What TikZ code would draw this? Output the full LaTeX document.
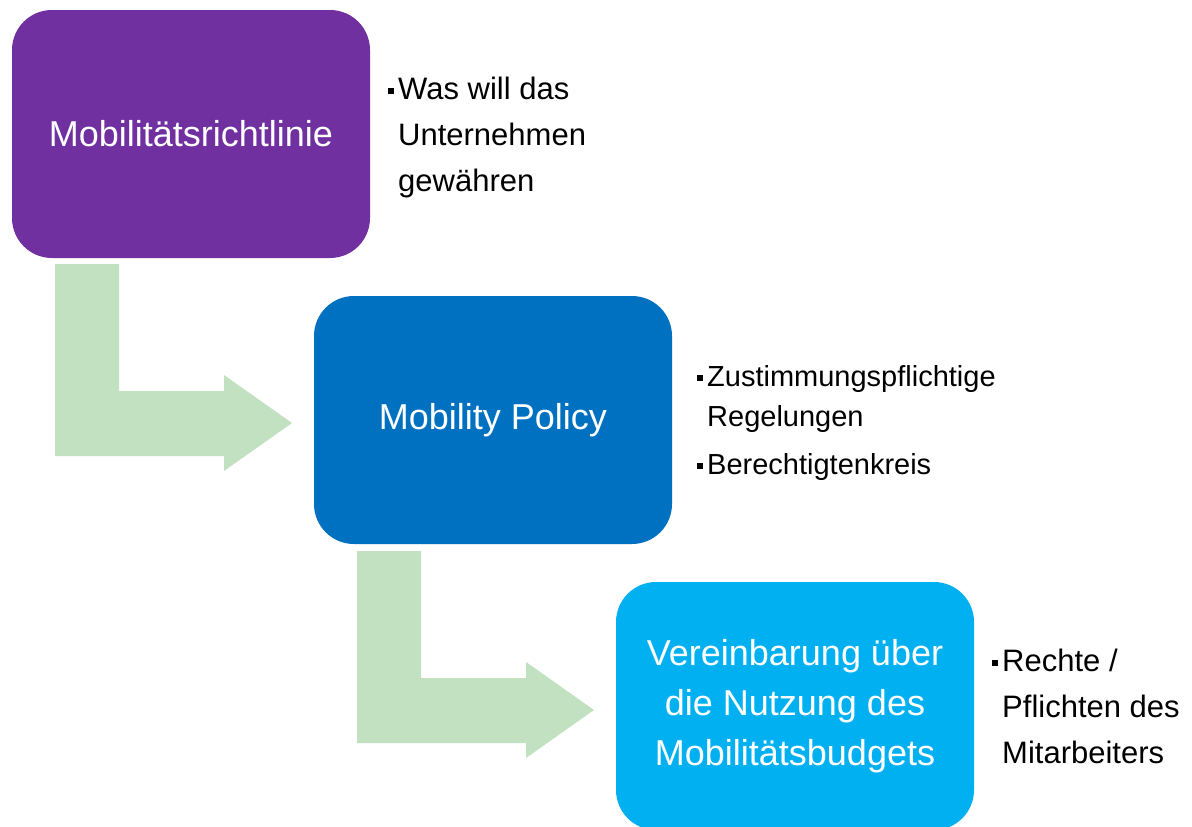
\documentclass[tikz,border=0pt]{standalone}
\usepackage{fontspec}
\setmainfont{Liberation Sans}
\usetikzlibrary{positioning}

\definecolor{richtlinieviolett}{RGB}{112,48,160}
\definecolor{policyblau}{RGB}{0,112,192}
\definecolor{budgethellblau}{RGB}{0,176,240}
\definecolor{pfeilgruen}{RGB}{193,225,192}

\newcommand{\sqb}{\makebox[10pt][l]{\rule[5pt]{6pt}{6pt}}}
\newcommand{\hangin}{\hspace*{10pt}}

\begin{document}
\begin{tikzpicture}[x=1pt, y=-1pt,
    phase/.style={rectangle, rounded corners=40pt, minimum width=358pt, minimum height=248pt, inner sep=0pt, align=center, text=white, font=\fontsize{36}{50}\selectfont},
    info/.style={anchor=base west, inner sep=0pt},
    bentarrow/.pic={\fill[pfeilgruen] (0,0) -- (64,0) -- (64,127) -- (169,127) -- (169,111) -- (237,159) -- (169,207) -- (169,192) -- (0,192) -- cycle;}
]
\useasboundingbox (0,0) rectangle (1192,827);

% Phases
\node[phase, fill=richtlinieviolett] (richtlinie) at (191,134) {Mobilitätsrichtlinie};
\node[phase, fill=policyblau] (policy) at (493,420) {Mobility Policy};
\node[phase, fill=budgethellblau] (vereinbarung) at (795,706) {Vereinbarung über\\die Nutzung des\\Mobilitätsbudgets};

% Bent arrows between the phases
\pic at (55,264) {bentarrow};
\pic at (357,551) {bentarrow};

% Notes
\node[info] (richtlinieinfo) at (388,99) {\parbox[t]{260pt}{\raggedright\fontsize{31}{46}\selectfont
  \sqb Was will das\\ \hangin Unternehmen\\ \hangin gewähren}};
\node[info] (policyinfo) at (697,386) {\parbox[t]{330pt}{\raggedright\fontsize{29}{40}\selectfont
  \sqb Zustimmungspflichtige\\ \hangin Regelungen\\[8pt] \sqb Berechtigtenkreis}};
\node[info] (vereinbarunginfo) at (992,671) {\parbox[t]{200pt}{\raggedright\fontsize{31}{46}\selectfont
  \sqb Rechte /\\ \hangin Pflichten des\\ \hangin Mitarbeiters}};

\end{tikzpicture}
\end{document}
